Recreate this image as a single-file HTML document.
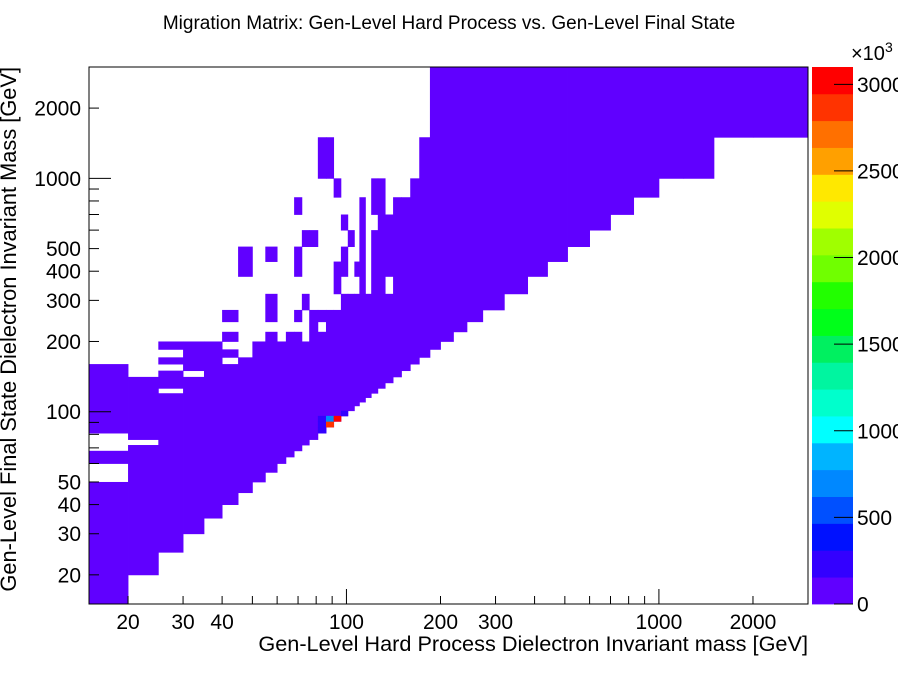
<!DOCTYPE html>
<html><head><meta charset="utf-8"><style>
html,body{margin:0;padding:0;background:#fff;width:898px;height:673px;overflow:hidden}
svg{display:block;font-family:"Liberation Sans",Arial,sans-serif}
</style></head><body>
<svg id="chart" width="898" height="673" viewBox="0 0 898 673">
<text x="449" y="29" text-anchor="middle" font-size="19">Migration Matrix: Gen-Level Hard Process vs. Gen-Level Final State</text>
<g id="cells"></g>
<g id="axes"></g>
<g id="cbar"></g>
<text x="808" y="651" text-anchor="end" font-size="21.7">Gen-Level Hard Process Dielectron Invariant mass [GeV]</text>
<text transform="translate(16,67) rotate(-90)" text-anchor="end" font-size="21.8">Gen-Level Final State Dielectron Invariant Mass [GeV]</text>
<text x="851" y="60" font-size="20">×10<tspan dy="-8" font-size="14">3</tspan></text>
</svg>
<script>
const binEdges = [15,20,25,30,35,40,45,50,55,60,64,68,72,76,81,86,91,96,101,106,110,115,120,126,133,141,150,160,171,185,200,220,243,273,320,380,440,510,600,700,830,1000,1200,1500,2000,3000];
// filled runs: [x bin low edge, y low edge, y high edge] (GeV)
const fillRuns = [
[15,15,50],[15,60,68],[15,81,160],
[20,20,72],[20,76,141],
[25,25,120],[25,126,150],[25,160,171],[25,185,200],
[30,30,141],[30,150,200],
[35,35,200],
[40,40,160],[40,171,185],[40,200,220],[40,243,273],
[45,45,171],[45,380,510],
[50,50,200],
[55,55,220],[55,243,320],[55,440,510],
[60,60,200],
[64,64,220],
[68,68,220],[68,243,273],[68,380,510],[68,700,830],
[72,72,200],[72,273,320],[72,510,600],
[76,76,273],[76,510,600],
[81,81,220],[81,243,273],[81,1000,1500],
[86,86,273],[86,1000,1500],
[91,91,273],[91,320,440],[91,830,1000],
[96,96,320],[96,380,510],[96,600,700],
[101,101,320],[101,510,600],
[106,106,320],[106,380,440],
[110,110,830],
[115,115,320],
[120,120,600],[120,700,1000],
[126,126,1000],
[133,133,320],[133,380,700],
[141,141,830],[150,150,830],[160,160,1000],[171,171,1500],
[185,185,3000],[200,200,3000],[220,220,3000],[243,243,3000],[273,273,3000],[320,320,3000],
[380,380,3000],[440,440,3000],[510,510,3000],[600,600,3000],[700,700,3000],[830,830,3000],
[1000,1000,3000],[1200,1000,3000],[1500,1500,3000],[2000,1500,3000]
];
const baseValue = 20000;
// special cells: [x bin low, y bin low, content]
const peakCells = [[81,81,250000],[81,86,250000],[81,91,250000],[86,86,2850000],[86,91,700000],[91,91,3050000],[96,96,250000]];
const palette = ["#6000ff","#3300ff","#0011ff","#0050ff","#0088ff","#00b4ff","#00ffff","#00ffcc","#00f5a0","#00f060","#00ff1a","#22ff00","#70ff00","#a0ff00","#e0ff00","#ffe800","#ffa000","#ff7000","#ff3300","#ff0000"];
const zMax = 3100000;
const xTickLabels = [20,30,40,100,200,300,1000,2000];
const yTickLabels = [20,30,40,50,100,200,300,400,500,1000,2000];
const cbarTicks = [0,500,1000,1500,2000,2500,3000];

const NS="http://www.w3.org/2000/svg";
const X0=89,X1=808,Y0=67,Y1=604,LO=15,HI=3000;
const L=Math.log10(HI/LO);
const xs=v=>X0+Math.log10(v/LO)/L*(X1-X0);
const ys=v=>Y1-Math.log10(v/LO)/L*(Y1-Y0);
const zs=v=>Y1-v/zMax*(Y1-Y0);
const colorOf=v=>palette[Math.min(palette.length-1,Math.floor(v/zMax*palette.length))];
function mk(tag,attrs,parent){const e=document.createElementNS(NS,tag);for(const k in attrs)e.setAttribute(k,attrs[k]);parent.appendChild(e);return e;}
const nextEdge=v=>binEdges[binEdges.indexOf(v)+1];

const cells=document.getElementById('cells');
fillRuns.forEach(r=>{
  const x0=xs(r[0]),x1=xs(nextEdge(r[0])),y0=ys(r[2]),y1=ys(r[1]);
  const el=mk('rect',{x:x0,y:y0,width:x1-x0+0.4,height:y1-y0+0.4,fill:colorOf(baseValue)},cells);
  
  
});
peakCells.forEach(c=>{
  const x0=xs(c[0]),x1=xs(nextEdge(c[0])),y0=ys(nextEdge(c[1])),y1=ys(c[1]);
  const el=mk('rect',{x:x0,y:y0,width:x1-x0+0.4,height:y1-y0+0.4,fill:colorOf(c[2])},cells);
  
  
});

const ax=document.getElementById('axes');
const frame=mk('rect',{x:X0,y:Y0,width:X1-X0,height:Y1-Y0,fill:'none',stroke:'#000','stroke-width':1},ax);


const minors=[];
for(let d=10;d<=1000;d*=10)for(let m=1;m<10;m++){const v=d*m;if(v>=LO&&v<=HI)minors.push(v);}
minors.forEach(v=>{
  const major=(v===100||v===1000);
  const xt=mk('line',{x1:xs(v),x2:xs(v),y1:Y1,y2:Y1-(major?15:8),stroke:'#000','stroke-width':1},ax);
  
  
  const yt=mk('line',{x1:X0,x2:X0+(major?22:10),y1:ys(v),y2:ys(v),stroke:'#000','stroke-width':1},ax);
  
  
});
xTickLabels.forEach(v=>{
  const t=mk('text',{x:xs(v),y:629,'text-anchor':'middle','font-size':21},ax);
  t.textContent=v;
  
  
});
yTickLabels.forEach(v=>{
  const t=mk('text',{x:81,y:ys(v)+7.5,'text-anchor':'end','font-size':21},ax);
  t.textContent=v;
  
  
});

const cb=document.getElementById('cbar');
palette.forEach((c,i)=>{
  const lo=zMax*i/palette.length,hi=zMax*(i+1)/palette.length;
  const r=mk('rect',{x:812,y:zs(hi),width:41,height:zs(lo)-zs(hi)+0.4,fill:c},cb);
  
  
});
cbarTicks.forEach(v=>{
  const y=zs(v*1000);
  const l=mk('line',{x1:834,x2:853,y1:y,y2:y,stroke:'#000','stroke-width':1},cb);
  
  
  const t=mk('text',{x:857,y:y+7.5,'font-size':21},cb);
  t.textContent=v;
  
  
});
</script>
</body></html>
